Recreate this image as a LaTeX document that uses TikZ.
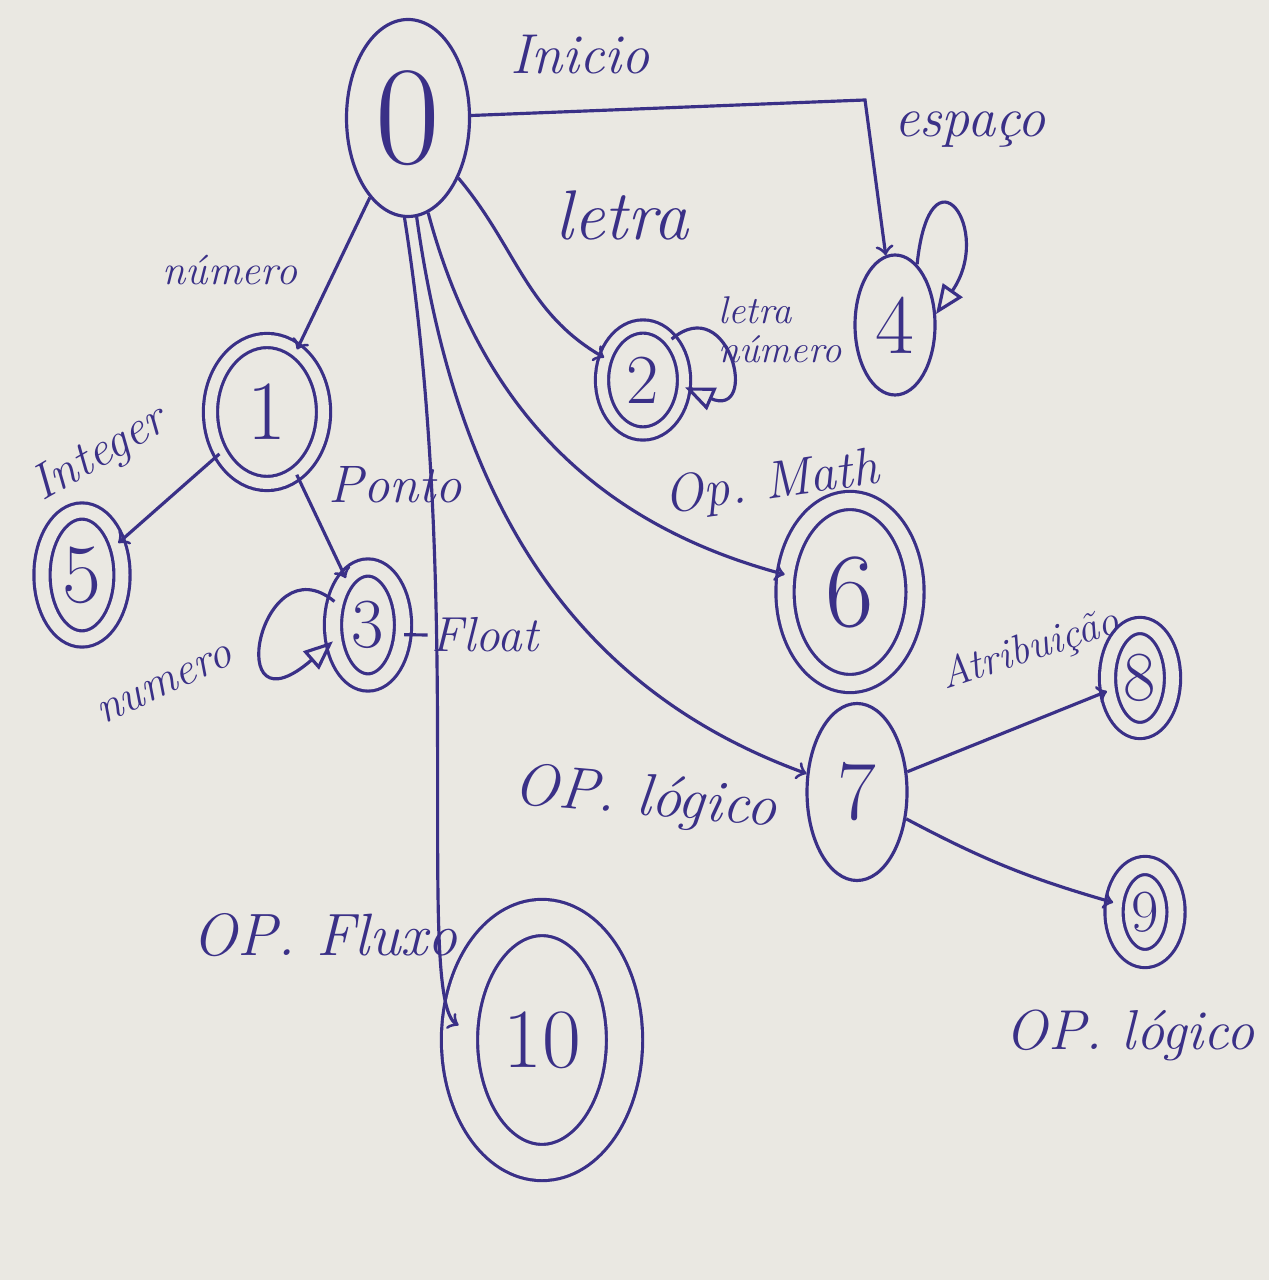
\documentclass[tikz,border=0pt]{standalone}
\usepackage{xcolor}
\usetikzlibrary{arrows,shapes.geometric}
\definecolor{tinta}{RGB}{58,48,135}
\definecolor{papel}{RGB}{234,232,226}
\tikzset{
	estado/.style={draw=tinta, ellipse, line width=0.9pt, inner sep=0pt,
			text=tinta, font=\fontsize{24}{24}\selectfont},
	final/.style={estado, double=papel, double distance=#1},
	trans/.style={draw=tinta, line width=0.9pt, ->},
	laco/.style={draw=tinta, line width=0.9pt, -open triangle 45},
	rotulo/.style={text=tinta, inner sep=1pt, font=\itshape\fontsize{#1}{#1}\selectfont}
}

\begin{document}
\begin{tikzpicture}
% Paper
\fill[papel] (0, 0) rectangle (12.69, -12.8);
% States
\node[estado, minimum width=1.23cm, minimum height=1.97cm,
	font=\fontsize{40}{40}\selectfont] (n0) at (4.08, -1.18) {0};
\node[final=0.11cm, minimum width=1.13cm, minimum height=1.43cm] (n1) at (2.67, -4.12) {1};
\node[final=0.1cm, minimum width=0.82cm, minimum height=1.07cm,
	font=\fontsize{20}{20}\selectfont] (n2) at (6.43, -3.8) {2};
\node[final=0.14cm, minimum width=0.7cm, minimum height=1.15cm,
	font=\fontsize{20}{20}\selectfont] (n3) at (3.68, -6.25) {3};
\node[estado, minimum width=0.8cm, minimum height=1.4cm] (n4) at (8.95, -3.25) {4};
\node[final=0.13cm, minimum width=0.8cm, minimum height=1.28cm] (n5) at (0.82, -5.75) {5};
\node[final=0.15cm, minimum width=1.3cm, minimum height=1.83cm,
	font=\fontsize{30}{30}\selectfont] (n6) at (8.5, -5.92) {6};
\node[estado, minimum width=1.0cm, minimum height=1.77cm] (n7) at (8.57, -7.92) {7};
\node[final=0.13cm, minimum width=0.65cm, minimum height=1.05cm,
	font=\fontsize{20}{20}\selectfont] (n8) at (11.4, -6.78) {8};
\node[final=0.15cm, minimum width=0.62cm, minimum height=0.93cm,
	font=\fontsize{17}{17}\selectfont] (n9) at (11.45, -9.12) {9};
\node[final=0.33cm, minimum width=1.65cm, minimum height=2.45cm] (n10) at (5.42, -10.4) {10};
\coordinate (c04) at (8.65, -1.0);
% Labels
\node[rotulo=16] (lInicio) at (5.8, -0.55) {Inicio};
\node[rotulo=16] (lEspaco) at (9.7, -1.3) {espaço};
\node[rotulo=20] (lLetra) at (6.22, -2.15) {letra};
\node[rotulo=11, align=left] (lLetraNum) at (7.8, -3.3) {letra\\número};
\node[rotulo=12] (lNumero) at (2.3, -2.7) {número};
\node[rotulo=14, rotate=30] (lInteger) at (1.0, -4.55) {Integer};
\node[rotulo=15] (lPonto) at (3.95, -4.85) {Ponto};
\node[rotulo=13, rotate=25] (lNumero3) at (1.65, -6.85) {numero};
\node[rotulo=14] (lFloat) at (4.85, -6.35) {Float};
\node[rotulo=15, rotate=8] (lMath) at (7.72, -4.85) {Op.\ Math};
\node[rotulo=12, rotate=18] (lAtrib) at (10.3, -6.5) {Atribuição};
\node[rotulo=17, rotate=-5] (lLogico) at (6.45, -8.0) {OP.\ lógico};
\node[rotulo=17] (lFluxo) at (3.25, -9.35) {OP.\ Fluxo};
\node[rotulo=16] (lLogico9) at (11.3, -10.35) {OP.\ lógico};
% Transitions
\draw[trans] (n0) -- (c04) -- (n4);
\draw[trans] (n0) -- (n1);
\draw[trans] (n0) to[out=-50, in=150] (n2);
\draw[trans] (n0.-78) to[out=-75, in=165] (n6);
\draw[trans] (n0.-85) to[out=-82, in=160] (n7);
\draw[trans] (n0.-92) .. controls (4.65, -6.0) and (4.15, -10.0) .. (n10.170);
\draw[trans] (n1) -- (n5);
\draw[trans] (n1) -- (n3);
\draw[trans] (n7) -- (n8);
\draw[trans] (n7) to[bend right=6] (n9);
\draw[draw=tinta, line width=0.9pt] (n3.-15) -- (lFloat.west);
% Loops
\draw[laco] (n3.145) .. controls (2.6, -5.4) and (2.2, -7.4) .. (n3.205);
\draw[laco] (n2.55) .. controls (7.3, -2.9) and (7.6, -4.2) .. (n2.-10);
\draw[laco] (n4.70) .. controls (9.3, -1.4) and (9.95, -2.3) .. (n4.15);
\end{tikzpicture}
\end{document}
